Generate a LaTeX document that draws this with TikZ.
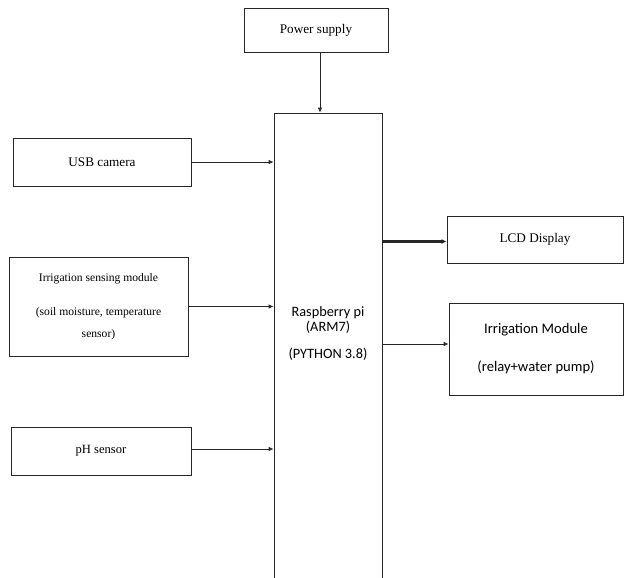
\documentclass[tikz,border=0pt]{standalone}
\usepackage{fontspec}
\setmainfont{Liberation Serif}
\newfontfamily\calib{Carlito}
\usetikzlibrary{arrows.meta}
\begin{document}
\begin{tikzpicture}[x=1pt,y=-1pt,
  blk/.style={draw=black!85, line width=0.8pt, inner sep=0pt, align=center, font=\fontsize{13.2}{15}\selectfont},
  conn/.style={draw=black!85, line width=0.8pt, -{Latex[length=5pt,width=4.5pt]}},
  thickconn/.style={draw=black!85, line width=2.2pt, -{Latex[length=5pt,width=5pt]}}]
\useasboundingbox (0,0) rectangle (624,578);
\clip (0,0) rectangle (624,578);
\fill[white] (0,0) rectangle (624,578);
% boxes
\node[blk, minimum width=144, minimum height=44] (power) at (316,30) {Power supply};
\node[draw=black!85, line width=0.8pt, minimum width=108, minimum height=490, inner sep=0pt] (pi) at (328,358) {};
\node[font=\calib\fontsize{14.3}{15}\selectfont, align=center] (pitext) at (328,334) {Raspberry pi\\(ARM7)\\[12pt](PYTHON 3.8)};
\node[blk, minimum width=178, minimum height=48] (usb) at (102,162) {USB camera};
\node[blk, minimum width=179, minimum height=99, font=\fontsize{11.6}{22}\selectfont] (irs) at (98.5,306.5) {Irrigation sensing module\\[12pt](soil moisture, temperature\\sensor)};
\node[blk, minimum width=180, minimum height=48, font=\fontsize{12.6}{15}\selectfont] (ph) at (101,451) {pH sensor};
\node[blk, minimum width=176, minimum height=47] (lcd) at (535,239.5) {LCD Display};
\node[blk, minimum width=174, minimum height=92, font=\calib\fontsize{14.6}{38}\selectfont] (irm) at (536,349) {Irrigation Module\\(relay+water pump)};
% connectors
\draw[conn] ([xshift=4]power.south) -- ([xshift=4]power.south |- pi.north);
\draw[conn] (usb.east) -- (usb.east -| pi.west);
\draw[conn] (irs.east) -- (irs.east -| pi.west);
\draw[conn] ([yshift=2]ph.east) -- ([yshift=2]ph.east -| pi.west);
\draw[thickconn] ([yshift=-2]lcd.west -| pi.east) -- ([yshift=-2]lcd.west);
\draw[conn] ([yshift=5]irm.west -| pi.east) -- ([yshift=5]irm.west);
\end{tikzpicture}
\end{document}
